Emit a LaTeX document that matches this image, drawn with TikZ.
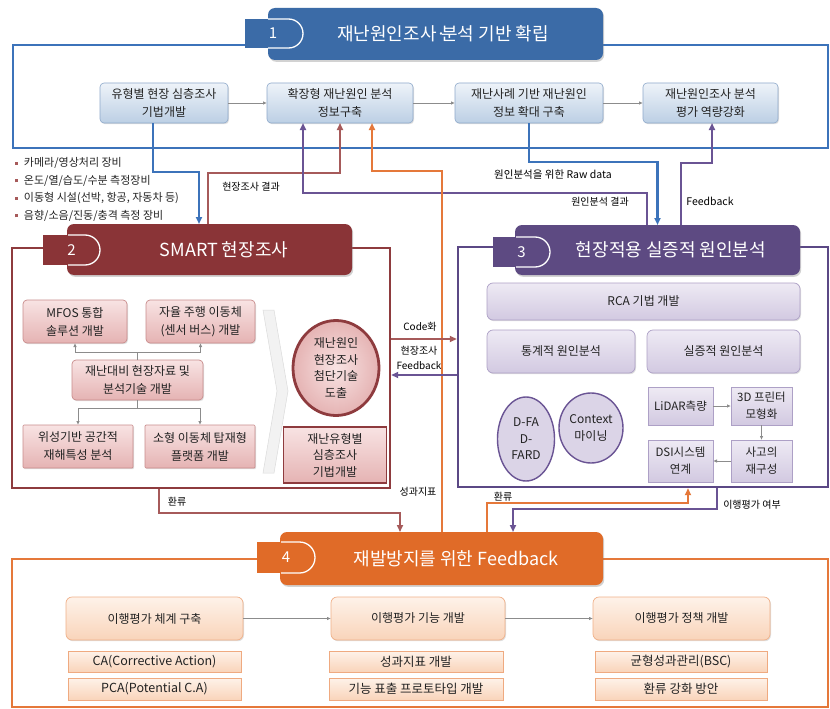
\documentclass[tikz,border=0pt]{standalone}
\usepackage{fontspec}
\setmainfont{Noto Sans CJK KR}
\usetikzlibrary{shapes.geometric,arrows.meta,shadows}
\definecolor{bH}{HTML}{3B6BA7}
\definecolor{bL}{HTML}{3C73BA}
\definecolor{bBd}{HTML}{8EA9CB}
\definecolor{bT}{HTML}{EEF3F9}
\definecolor{bB}{HTML}{BCCFE4}
\definecolor{mH}{HTML}{8A3437}
\definecolor{mL}{HTML}{8E3B3E}
\definecolor{mC}{HTML}{A65A5A}
\definecolor{pBd}{HTML}{C98C8C}
\definecolor{pT}{HTML}{F8E3E3}
\definecolor{pB}{HTML}{E5B3B3}
\definecolor{vH}{HTML}{5D4A82}
\definecolor{vL}{HTML}{5B4885}
\definecolor{vC}{HTML}{6A5494}
\definecolor{vBd}{HTML}{ADA0C6}
\definecolor{vT}{HTML}{EEEAF4}
\definecolor{vB}{HTML}{D2C9E1}
\definecolor{oH}{HTML}{E06B28}
\definecolor{oL}{HTML}{E5783A}
\definecolor{oBd}{HTML}{F0B088}
\definecolor{oT}{HTML}{FEF2E9}
\definecolor{oB}{HTML}{F9D4BA}
\definecolor{gA}{HTML}{8C8C8C}
\definecolor{txt}{HTML}{222222}
\begin{document}
\begin{tikzpicture}[x=1pt,y=-1pt,
 every node/.style={inner sep=1pt, outer sep=0pt, align=center, text=txt, font=\fontsize{12}{18}\selectfont},
 sz/.style 2 args={minimum width=#1pt, minimum height=#2pt},
 frm/.style={draw=#1, line width=2.4pt, inner sep=0pt, outer sep=1.2pt},
 hdr/.style={fill=#1, rounded corners=7pt, text=white, font=\fontsize{18}{20}\selectfont, drop shadow={shadow xshift=1.2pt, shadow yshift=-1.8pt, opacity=0.35}},
 tabn/.style={text=white, font=\fontsize{15}{17}\selectfont},
 bbox/.style={draw=bBd, top color=bT, bottom color=bB, rounded corners=4pt, line width=0.6pt, drop shadow={shadow xshift=1pt, shadow yshift=-1.2pt, opacity=0.25}},
 pbox/.style={draw=pBd, top color=pT, bottom color=pB, rounded corners=4pt, line width=0.7pt, drop shadow={shadow xshift=1pt, shadow yshift=-1.2pt, opacity=0.25}},
 psq/.style={draw=mL, top color=pT, bottom color=pB, line width=1.2pt},
 vbox/.style={draw=vBd, top color=vT, bottom color=vB, rounded corners=6pt, line width=0.7pt, drop shadow={shadow xshift=1pt, shadow yshift=-1.2pt, opacity=0.25}},
 vsq/.style={draw=vBd, top color=vT, bottom color=vB, line width=0.8pt, font=\fontsize{11.5}{17}\selectfont},
 vell/.style={ellipse, draw=vC, fill=vB!80!white, line width=1.4pt, inner sep=-1pt, font=\fontsize{12}{16.5}\selectfont},
 obox/.style={draw=oBd, top color=oT, bottom color=oB, rounded corners=6pt, line width=0.7pt, drop shadow={shadow xshift=1pt, shadow yshift=-1.2pt, opacity=0.25}},
 osq/.style={draw=oBd!90!oL, top color=oT, bottom color=oB, line width=0.9pt, font=\fontsize{12.5}{15}\selectfont},
 lab/.style={font=\fontsize{10}{13}\selectfont, text=black},
 bul/.style={anchor=west, font=\fontsize{11}{13}\selectfont},
 conB/.style={draw=bL, line width=2.2pt, -{Triangle[length=7pt,width=6pt]}},
 conM/.style={draw=mC, line width=1.6pt, -{Triangle[length=7pt,width=6pt]}},
 conV/.style={draw=vC, line width=2pt, -{Triangle[length=7pt,width=6pt]}},
 conO/.style={draw=oL, line width=2pt, -{Triangle[length=7pt,width=6pt]}},
 conG/.style={draw=gA, line width=0.8pt, -{Latex[length=4pt,width=3.5pt]}}
]
\useasboundingbox (0,0) rectangle (830,709);
\fill[white] (0,0) rectangle (830,709);

% ---------- frames ----------
\node[frm=bL, sz={815}{103}] (f1) at (420.5,96.5) {};
\node[frm=mL, sz={378}{240}] (f2) at (201,368) {};
\node[frm=vL, sz={370}{240}] (f3) at (643,367) {};
\node[frm=oL, sz={816}{148}] (f4) at (420,633) {};

% ---------- headers ----------
\node[hdr=bH, sz={335}{52}] (head1) at (435.5,34) {\hspace*{15pt}재난원인조사·\kern-.3em분석 기반 확립};
\node[hdr=mH, sz={285}{51}] (head2) at (209.5,249.5) {\hspace*{29pt}SMART 현장조사};
\node[hdr=vH, sz={285}{50}] (head3) at (657.5,250) {\hspace*{27pt}현장적용 실증적 원인분석};
\node[hdr=oH, sz={323}{53}] (head4) at (441.5,558.5) {\hspace*{29pt}재발방지를 위한 Feedback};

% tabs
\fill[bH] (245,19) rectangle (270,48);
\draw[white, line width=1.3pt] (268,19) -- (288.5,19) arc[start angle=-90, end angle=90, radius=14.5] -- (268,48);
\node[tabn] (n1) at (273,33.5) {1};
\fill[mH] (43,235) rectangle (70,265);
\draw[white, line width=1.3pt] (68,235) -- (85,235) arc[start angle=-90, end angle=90, radius=15] -- (68,265);
\node[tabn] (n2) at (71.5,250) {2};
\fill[vH] (493,237) rectangle (518,267);
\draw[white, line width=1.3pt] (516,237) -- (535,237) arc[start angle=-90, end angle=90, radius=15] -- (516,267);
\node[tabn] (n3) at (521.5,252) {3};
\fill[oH] (257,542) rectangle (283,573);
\draw[white, line width=1.3pt] (281,542) -- (299.5,542) arc[start angle=-90, end angle=90, radius=15.5] -- (281,573);
\node[tabn] (n4) at (286,557.5) {4};

% ---------- section 1 boxes ----------
\node[bbox, sz={128}{40}] (b11) at (164,103) {유형별 현장 심층조사\\기법개발};
\node[bbox, sz={146}{40}] (b12) at (340,103) {확장형 재난원인 분석\\정보구축};
\node[bbox, sz={148}{40}] (b13) at (529,103) {재난사례 기반 재난원인\\정보 확대 구축};
\node[bbox, sz={135}{40}] (b14) at (710.5,103) {재난원인조사 분석\\평가 역량강화};
\draw[conG] (b11) -- (b12);
\draw[conG] (b12) -- (b13);
\draw[conG] (b13) -- (b14);

% bullets
\node[bul] (i1) at (14,163) {\textcolor{mC}{\rule[0.3ex]{3pt}{3pt}}\hspace{6pt}카메라/영상처리 장비};
\node[bul] (i2) at (14,180.5) {\textcolor{mC}{\rule[0.3ex]{3pt}{3pt}}\hspace{6pt}온도/열/습도/수분 측정장비};
\node[bul] (i3) at (14,198) {\textcolor{mC}{\rule[0.3ex]{3pt}{3pt}}\hspace{6pt}이동형 시설(선박, 항공, 자동차 등)};
\node[bul] (i4) at (14,215.5) {\textcolor{mC}{\rule[0.3ex]{3pt}{3pt}}\hspace{6pt}음향/소음/진동/충격 측정 장비};

% ---------- section 2 ----------
\node[pbox, sz={104}{43}] (p1) at (75,321.5) {MFOS 통합\\솔루션 개발};
\node[pbox, sz={109}{43}] (p2) at (200.5,321.5) {자율 주행 이동체\\(센서 버스) 개발};
\node[pbox, sz={131}{40}] (p3) at (137.5,380) {재난대비 현장자료 및\\분석기술 개발};
\node[pbox, rounded corners=1pt, sz={110}{43}] (p4) at (78,446.5) {위성기반 공간적\\재해특성 분석};
\node[pbox, rounded corners=1pt, sz={110}{43}] (p5) at (200,446.5) {소형 이동체 탑재형\\플랫폼 개발};
\draw[conG] (p3.north) -- ++(0,-8) -| (p1.south);
\draw[conG] (p3.north) -- ++(0,-8) -| (p2.south);
\draw[conG] (p3.south) -- ++(0,8) -| (p4.north);
\draw[conG] (p3.south) -- ++(0,8) -| (p5.north);
\filldraw[fill=gray!10, draw=gray!28, line width=0.5pt] (263,310) -- (274,310) -- (288,391) -- (274,473) -- (263,473) -- (277,391) -- cycle;
\node[ellipse, draw=mL, line width=2.8pt, inner color=pT, outer color=pB, inner sep=0pt, sz={86}{95}, font=\fontsize{12}{16.5}\selectfont] (ell2) at (336,368) {재난원인\\현장조사\\첨단기술\\도출};
\node[psq, sz={103}{56}, font=\fontsize{12}{16.5}\selectfont] (b2r) at (335,455) {재난유형별\\심층조사\\기법개발};

% ---------- section 3 ----------
\node[vbox, sz={313}{37}] (rca) at (643.5,301.5) {RCA 기법 개발};
\node[vbox, sz={148}{43}] (st1) at (561,351.5) {통계적 원인분석};
\node[vbox, sz={153}{43}] (st2) at (723.5,351.5) {실증적 원인분석};
\node[vell, sz={57}{84}] (e1) at (526,439) {D-FA\\D-\\FARD};
\node[vell, sz={64}{70}] (e2) at (591,428) {Context\\마이닝};
\node[vsq, sz={65}{38}] (l1) at (680.5,406) {LiDAR측량};
\node[vsq, sz={61}{38}] (l2) at (761.5,406) {3D 프린터\\모형화};
\node[vsq, sz={61}{42}] (l3) at (761.5,461) {사고의\\재구성};
\node[vsq, sz={65}{42}] (l4) at (680.5,461) {DSI시스템\\연계};
\draw[conG] (l1) -- (l2);
\draw[conG] (l2) -- (l3);
\draw[conG] (l3) -- (l4);

% ---------- section 4 ----------
\node[obox, sz={177}{43}] (q1) at (154.5,618.5) {이행평가 체계 구축};
\node[obox, sz={174}{43}] (q2) at (418,618.5) {이행평가 기능 개발};
\node[obox, sz={177}{43}] (q3) at (681.5,618.5) {이행평가 정책 개발};
\draw[conG] (q1) -- (q2);
\draw[conG] (q2) -- (q3);
\node[osq, sz={173}{21}] (r1) at (154.5,661.5) {CA(Corrective Action)};
\node[osq, sz={173}{22}] (r2) at (154.5,689) {PCA(Potential C.A)};
\node[osq, sz={174}{21}] (r3) at (416,661.5) {성과지표 개발};
\node[osq, sz={174}{22}] (r4) at (416,689) {기능 표출 프로토타입 개발};
\node[osq, sz={172}{21}] (r5) at (681,661.5) {균형성과관리(BSC)};
\node[osq, sz={172}{22}] (r6) at (681,689) {환류 강화 방안};

% ---------- connectors ----------
\coordinate (y339) at (0,339);
\coordinate (y375) at (0,375);
\draw[conB] ([xshift=-11pt]b11.south) -- ++(0,49) -| ([xshift=-10.5pt]head2.north);
\draw[conM] ([xshift=-1.5pt]head2.north) -- ++(0,-51) -| (b12.south);
\draw[conV] ([xshift=-10.5pt]head3.north) -- ++(0,-32) -| ([xshift=-37pt]b12.south);
\draw[conO] (head4.north) -- ++(0,-361) -| ([xshift=32pt]b12.south);
\draw[conB] (b13.south) -- ++(0,39) -| (head3.north);
\draw[conV] ([xshift=23.5pt]head3.north) -- ++(0,-62) -| ([xshift=1.5pt]b14.south);
\draw[conM] ([xshift=-42pt]f2.south) -- ++(0,24) -| ([xshift=-41.5pt]head4.north);
\draw[conO] ([xshift=45.5pt]head4.north) -- ++(0,-29) -| ([xshift=45pt]f3.south);
\draw[conV] ([xshift=74pt]f3.south) -- ++(0,21) -| ([xshift=71.5pt]head4.north);
\draw[conM] (f2.east |- y339) -- (f3.west |- y339);
\draw[conV] (f3.west |- y375) -- (f2.east |- y375);

% ---------- labels ----------
\node[lab] (lb1) at (251,187) {현장조사 결과};
\node[lab, font=\fontsize{10.5}{13}\selectfont] (lb2) at (553,175) {원인분석을 위한 Raw data};
\node[lab] (lb3) at (600,202) {원인분석 결과};
\node[lab, font=\fontsize{10.5}{13}\selectfont] (lb4) at (710,201) {Feedback};
\node[lab] (lb5) at (420,327) {Code화};
\node[lab, font=\fontsize{10}{14.5}\selectfont] (lb6) at (419,358) {현장조사\\Feedback};
\node[lab] (lb7) at (177,502) {환류};
\node[lab] (lb8) at (418,492) {성과지표};
\node[lab] (lb9) at (503,497) {환류};
\node[lab] (lb10) at (752,505) {이행평가 여부};
\end{tikzpicture}
\end{document}
